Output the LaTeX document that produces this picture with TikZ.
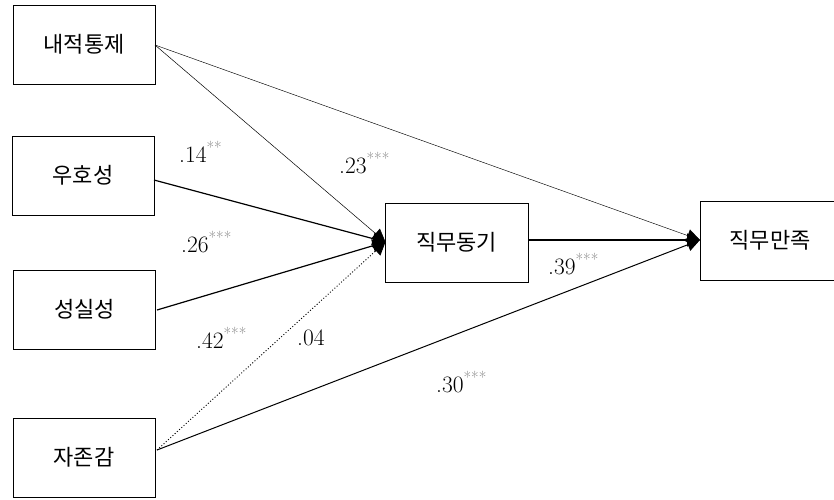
\documentclass[tikz,border=0pt]{standalone}
\usepackage{fontspec}
\newfontfamily\kr{Noto Sans CJK KR}
\usetikzlibrary{arrows.meta}
\tikzset{
  var/.style={draw, line width=0.8pt, minimum width=142pt, minimum height=79pt, inner sep=0pt, font=\kr\fontsize{22}{26}\selectfont},
  path/.style={-{Triangle[length=13pt,width=13pt]}},
  coef/.style={font=\fontsize{23.5}{26}\selectfont, inner sep=0pt},
}
\newcommand{\sg}[1]{\textsuperscript{\textcolor{gray}{#1}}}
\begin{document}
\begin{tikzpicture}[x=1pt,y=-1pt]
\useasboundingbox (0,0) rectangle (834,499);
\node[var] (A) at (84,44.5) {내적통제};
\node[var] (B) at (83,175.5) {우호성};
\node[var] (C) at (84.5,309.5) {성실성};
\node[var] (D) at (84,457.5) {자존감};
\node[var, minimum width=143pt] (M) at (456.5,242.5) {직무동기};
\node[var, minimum width=140pt, minimum height=79pt] (S) at (770,240.5) {직무만족};
\coordinate (Min) at (385.5,242);
\coordinate (Sin) at (700,240);
\coordinate (Aout) at (155,45);
\coordinate (Bout) at (154,180);
\coordinate (Cout) at (157,310);
\coordinate (Dout) at (157,450);
\coordinate (Mout) at (528,240);
\draw[path, line width=0.5pt] (Aout) -- (Min);
\draw[path, line width=1.2pt] (Bout) -- (Min);
\draw[path, line width=1.2pt] (Cout) -- (Min);
\draw[path, line width=0.9pt, dash pattern=on 1pt off 2pt] (Dout) -- (Min);
\draw[path, line width=0.45pt] (Aout) -- (Sin);
\draw[path, line width=1.3pt] (Mout) -- (Sin);
\draw[path, line width=1pt] (Dout) -- (Sin);
\node[coef, anchor=west] (l1) at (179,152) {.14\sg{**}};
\node[coef, anchor=west] (l2) at (339,163) {.23\sg{***}};
\node[coef, anchor=west] (l3) at (181,242) {.26\sg{***}};
\node[coef, anchor=west] (l4) at (196,338) {.42\sg{***}};
\node[coef, anchor=west] (l5) at (297,338) {.04};
\node[coef, anchor=west] (l6) at (548,264) {.39\sg{***}};
\node[coef, anchor=west] (l7) at (436,382) {.30\sg{***}};
\end{tikzpicture}
\end{document}
